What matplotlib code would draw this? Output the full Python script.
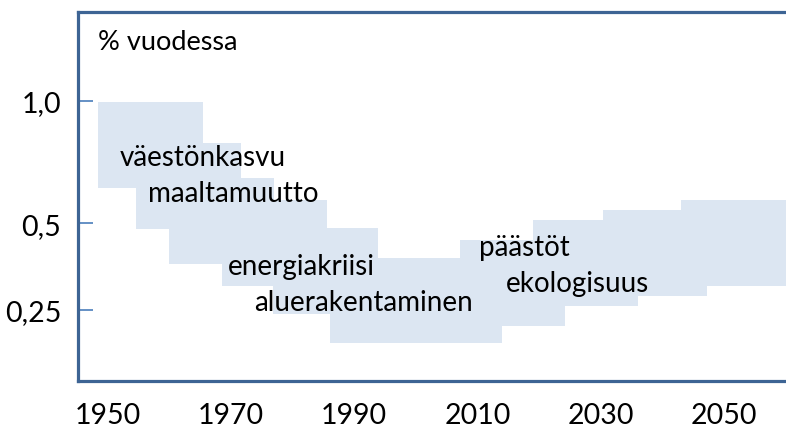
import numpy as np
import matplotlib.pyplot as plt

# vyohykkeet: alku- ja loppuvuosi, ala- ja ylaraja (% vuodessa)
alku = [1948.5, 1954.6, 1960.0, 1968.6, 1976.8, 1986.0, 2007.2, 2019.0, 2030.3, 2043.0]
loppu = [1965.5, 1971.6, 1977.0, 1985.6, 1993.8, 2013.9, 2024.2, 2036.0, 2047.3, 2062.0]
ala = [0.627, 0.481, 0.372, 0.311, 0.241, 0.177, 0.213, 0.260, 0.285, 0.311]
yla = [0.995, 0.809, 0.666, 0.582, 0.485, 0.390, 0.446, 0.512, 0.546, 0.582]

# tekstit
tekstit = ["väestönkasvu", "maaltamuutto", "energiakriisi", "aluerakentaminen",
           "päästöt", "ekologisuus"]
teksti_x = [1951.9, 1956.5, 1969.5, 1973.8, 2010.2, 2014.6]
teksti_y = [0.717, 0.579, 0.3435, 0.25, 0.399, 0.2975]

y_tikit = [1.0, 0.5, 0.25]
y_nimet = ["1,0", "0,5", "0,25"]
x_tikit = [1950, 1970, 1990, 2010, 2030, 2050]

plt.rcParams['font.family'] = ['Lato', 'DejaVu Sans']

fig = plt.figure(figsize=(7.86, 4.27), dpi=100)
ax = fig.add_axes([78 / 786, 45 / 427, 730 / 786, 369 / 427])
ax.set_yscale('function', functions=(lambda v: np.sqrt(np.clip(v, 0, None)), np.square))

leveys = np.array(loppu) - np.array(alku)
korkeus = np.array(yla) - np.array(ala)
ax.bar(alku, korkeus, width=leveys, bottom=ala, align='edge',
       color='#DCE6F2', edgecolor='none', zorder=1)

for t, x, y in zip(tekstit, teksti_x, teksti_y):
    ax.text(x, y, t, fontsize=20, color='black', va='baseline', ha='left', zorder=3)
ax.text(1948.4, 1.264, "% vuodessa", fontsize=19.5, va='baseline', ha='left', zorder=3)

ax.set_xlim(1945.2, 1945.2 + 730 / 6.165)
ax.set_ylim(0.109, 1.471)

ax.set_yticks(y_tikit)
ax.set_yticklabels(y_nimet)
ax.set_xticks(x_tikit)
ax.tick_params(axis='y', direction='in', length=11, width=1.2, color='#4A7EBB',
               labelsize=20.5, pad=12)
ax.tick_params(axis='x', length=0, labelsize=20.5, pad=15)

for s in ['left', 'top', 'bottom']:
    ax.spines[s].set_color('#3D6494')
    ax.spines[s].set_linewidth(2.3)
ax.spines['right'].set_visible(False)

fig.savefig('out.png', dpi=100)
